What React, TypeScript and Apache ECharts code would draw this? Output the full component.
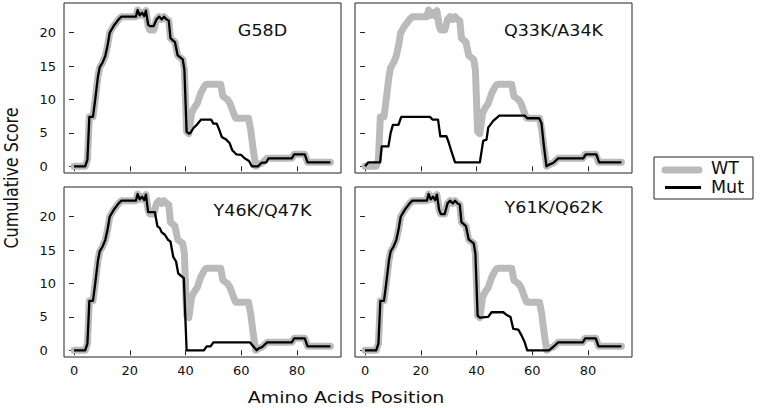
import React, { useEffect, useRef } from "react";
import * as echarts from "echarts";

const xTicks = [0, 20, 40, 60, 80];
const yTicks = [0, 5, 10, 15, 20];
const panelNames = ["G58D", "Q33K/A34K", "Y46K/Q47K", "Y61K/Q62K"];
const seriesNames = ["WT", "Mut"];

const wt = [
  [0, 0], [4, 0], [4.8, 1], [5.5, 7.4], [6.8, 7.4], [7.6, 10], [8.6, 13.5], [9.2, 14.8],
  [10.2, 15.5], [11.2, 16.5], [12, 18], [12.8, 20], [14.2, 21], [16, 22], [17, 22.4],
  [22.2, 22.4], [22.8, 23.4], [23.6, 22.6], [24.4, 23], [25.2, 22.5], [25.8, 23.3],
  [26.6, 21], [27.2, 20.4], [28.6, 20.4], [29.6, 22], [30.5, 22.4], [31.5, 22], [32.3, 22.4],
  [33.2, 22], [34, 21.8], [34.6, 19.2], [36.2, 18.6], [37.2, 16.6], [39, 16], [39.6, 14.5],
  [40.4, 5.2], [41.2, 4.9], [42.2, 8], [43.2, 8.8], [44.2, 9.4], [45.5, 11], [46.8, 12],
  [47.6, 12.3], [52.6, 12.3], [53.4, 10.5], [55, 10], [56, 9.4], [57.2, 8], [58, 7.2],
  [62.6, 7.2], [63.4, 5.5], [64.2, 2.8], [65.2, 0], [66.3, 0.3], [67.5, 0.5], [69.3, 1.2],
  [78.2, 1.2], [79, 1.8], [82.8, 1.8], [83.8, 0.6], [92, 0.6],
];

const mutG58D = [
  [0, 0], [4, 0], [4.8, 1], [5.5, 7.4], [6.8, 7.4], [7.6, 10], [8.6, 13.5], [9.2, 14.8],
  [10.2, 15.5], [11.2, 16.5], [12, 18], [12.8, 20], [14.2, 21], [16, 22], [17, 22.4],
  [22.2, 22.4], [22.8, 23.4], [23.6, 22.6], [24.4, 23], [25.2, 22.5], [25.8, 23.3],
  [26.6, 21.2], [27.2, 21], [28.6, 21], [29.6, 22], [30.5, 22.4], [31.5, 22], [32.3, 22.4],
  [33.2, 22], [34, 21.8], [34.6, 19.2], [36.2, 18.6], [37.2, 16.6], [39, 16], [39.6, 14.5],
  [40.4, 5.2], [41.2, 4.9], [41.8, 5], [42.8, 5.7], [44, 6.2], [45.6, 7], [49.2, 7],
  [50, 6.4], [51.2, 6.4], [52, 5.6], [53, 4.4], [54.6, 4], [55.8, 3.5], [56.8, 2.4],
  [58.2, 1.8], [60, 1.7], [61.2, 1.2], [62.8, 0.8], [63.8, 0], [66, 0], [67.2, 0.5],
  [69, 0.6], [69.8, 1.2], [78.2, 1.2], [79, 1.8], [82.8, 1.8], [83.8, 0.6], [92, 0.6],
];

const mutQ33K = [
  [0, 0], [1.2, 0.6], [5.4, 0.6], [6, 3], [8.4, 3], [9.2, 5], [10, 6.2], [12, 6.2],
  [13, 7.4], [23.3, 7.4], [24.2, 7], [26.2, 7], [27, 4.5], [29.2, 4.5], [30, 3.6],
  [30.8, 2.5], [31.6, 1.5], [32.3, 0.6], [41.2, 0.6], [42.4, 3.8], [43.6, 4], [44.2, 5.8],
  [46, 6.8], [48.2, 7.6], [57.3, 7.6], [58.2, 7.2], [62.5, 7.2], [63.3, 6.5], [64.2, 3],
  [65.1, 0], [66.3, 0.3], [67.5, 0.5], [69.3, 1.2], [78.3, 1.2], [79.2, 1.8], [83, 1.8],
  [84, 0.6], [92, 0.6],
];

const mutY46K = [
  [0, 0], [4, 0], [4.8, 1], [5.5, 7.4], [6.8, 7.4], [7.6, 10], [8.6, 13.5], [9.2, 14.8],
  [10.2, 15.5], [11.2, 16.5], [12, 18], [12.8, 20], [14.2, 21], [16, 22], [17, 22.4],
  [22.2, 22.4], [22.8, 23.4], [23.6, 22.6], [24.4, 23], [25.2, 22.5], [25.8, 23.3],
  [26.6, 20.7], [29, 20.7], [29.9, 18.6], [30.8, 18.3], [31.4, 17.7], [32.6, 17.3],
  [33.8, 16.5], [34.6, 16.3], [35.6, 14], [36.6, 13.3], [37.4, 11.5], [39.4, 10.8],
  [40.4, 0], [46.6, 0], [47.6, 0.6], [49, 0.6], [50, 1.2], [63.1, 1.2], [64.3, 0.6],
  [65.5, 0], [66.3, 0.3], [67.5, 0.5], [69.3, 1.2], [78.2, 1.2], [79, 1.8], [82.8, 1.8],
  [83.8, 0.6], [92, 0.6],
];

const mutY61K = [
  [0, 0], [4, 0], [4.8, 1], [5.5, 7.4], [6.8, 7.4], [7.6, 10], [8.6, 13.5], [9.2, 14.8],
  [10.2, 15.5], [11.2, 16.5], [12, 18], [12.8, 20], [14.2, 21], [16, 22], [17, 22.4],
  [22.2, 22.4], [22.8, 23.4], [23.6, 22.6], [24.4, 23], [25.2, 22.5], [25.8, 23.3],
  [26.6, 21], [27.2, 20.4], [28.6, 20.4], [29.6, 22], [30.5, 22.4], [31.5, 22], [32.3, 22.4],
  [33.2, 22], [34, 21.8], [34.6, 19.2], [36.2, 18.6], [37.2, 16.6], [39, 16], [39.6, 14.5],
  [40.4, 5.2], [41.2, 4.9], [44.2, 5], [45.4, 5.7], [49.6, 5.7], [50.8, 5.3], [52.2, 5],
  [53.2, 3.2], [55, 3.1], [56.2, 2.2], [57.3, 1.2], [58.2, 0], [66, 0], [67.5, 0.5],
  [69.3, 1.2], [78.2, 1.2], [79, 1.8], [82.8, 1.8], [83.8, 0.6], [92, 0.6],
];

const mutants = [mutG58D, mutQ33K, mutY46K, mutY61K];

const FONT = "DejaVu Sans";
const GRAY = "#bababa";

export default function App() {
  const ref = useRef<HTMLDivElement>(null);

  useEffect(() => {
    document.body.style.margin = "0";
    const chart = echarts.init(ref.current!, null, { renderer: "svg" });

    const grids = [
      { left: 64, top: 3 },
      { left: 355, top: 3 },
      { left: 64, top: 187 },
      { left: 355, top: 187 },
    ];
    const titleY = [30.5, 30.5, 211, 207.5];

    const option: any = {
      animation: false,
      grid: grids.map((g) => ({
        left: g.left,
        top: g.top,
        width: 277,
        height: 170,
        show: true,
        borderColor: "#222",
        borderWidth: 1,
        backgroundColor: "transparent",
      })),
      xAxis: grids.map((_, i) => ({
        type: "value",
        gridIndex: i,
        min: -3.6,
        max: 95.8,
        splitLine: { show: false },
        axisLine: { show: false },
        axisTick: {
          show: true,
          customValues: xTicks,
          length: 5,
          lineStyle: { color: "#222", width: 1 },
        },
        axisLabel: {
          show: i >= 2,
          customValues: xTicks,
          fontSize: 13,
          fontFamily: FONT,
          color: "#111",
          margin: 7,
        },
      })),
      yAxis: grids.map((_, i) => ({
        type: "value",
        gridIndex: i,
        min: -1.0,
        max: 24.45,
        splitLine: { show: false },
        axisLine: { show: false },
        axisTick: {
          show: true,
          customValues: yTicks,
          length: 5,
          lineStyle: { color: "#222", width: 1 },
        },
        axisLabel: {
          show: i % 2 === 0,
          customValues: yTicks,
          fontSize: 13,
          fontFamily: FONT,
          color: "#111",
          align: "left",
          margin: 24.5,
        },
      })),
      series: grids.flatMap((_, i) => [
        {
          name: seriesNames[0],
          type: "line",
          xAxisIndex: i,
          yAxisIndex: i,
          data: wt,
          symbol: "none",
          showSymbol: false,
          silent: true,
          z: 2,
          lineStyle: { color: GRAY, width: 7, cap: "round", join: "round" },
        },
        {
          name: seriesNames[1],
          type: "line",
          xAxisIndex: i,
          yAxisIndex: i,
          data: mutants[i],
          symbol: "none",
          showSymbol: false,
          silent: true,
          z: 3,
          lineStyle: { color: "#000", width: 2.3, join: "round" },
        },
      ]),
      graphic: [
        ...grids.map((g, i) => ({
          type: "text",
          x: g.left + 198.5,
          y: titleY[i],
          scaleY: 0.86,
          style: {
            text: panelNames[i],
            fontSize: 17.5,
            fontFamily: FONT,
            fill: "#111",
            textAlign: "center",
            textVerticalAlign: "middle",
            align: "center",
            verticalAlign: "middle",
          },
        })),
        {
          type: "text",
          x: 10.8,
          y: 178,
          rotation: Math.PI / 2,
          scaleX: 0.82,
          style: {
            text: "Cumulative Score",
            fontSize: 19.5,
            fontFamily: FONT,
            fill: "#111",
            textAlign: "center",
            textVerticalAlign: "middle",
            align: "center",
            verticalAlign: "middle",
          },
        },
        {
          type: "text",
          x: 346,
          y: 397.5,
          scaleY: 0.82,
          style: {
            text: "Amino Acids Position",
            fontSize: 19,
            fontFamily: FONT,
            fill: "#111",
            textAlign: "center",
            textVerticalAlign: "middle",
            align: "center",
            verticalAlign: "middle",
          },
        },
        {
          type: "rect",
          shape: { x: 654, y: 157, width: 99, height: 42 },
          style: { fill: "#fff", stroke: "#222", lineWidth: 1 },
        },
        {
          type: "line",
          shape: { x1: 665, y1: 170, x2: 699, y2: 170 },
          style: { stroke: GRAY, lineWidth: 7, lineCap: "round" },
        },
        {
          type: "line",
          shape: { x1: 665, y1: 187.5, x2: 701, y2: 187.5 },
          style: { stroke: "#000", lineWidth: 3 },
        },
        {
          type: "text",
          x: 711,
          y: 168,
          style: {
            text: seriesNames[0],
            fontSize: 17.5,
            fontFamily: FONT,
            fill: "#111",
            textAlign: "left",
            textVerticalAlign: "middle",
            align: "left",
            verticalAlign: "middle",
          },
        },
        {
          type: "text",
          x: 711,
          y: 186.7,
          style: {
            text: seriesNames[1],
            fontSize: 17.5,
            fontFamily: FONT,
            fill: "#111",
            textAlign: "left",
            textVerticalAlign: "middle",
            align: "left",
            verticalAlign: "middle",
          },
        },
      ],
    };

    chart.setOption(option);
    return () => chart.dispose();
  }, []);

  return <div ref={ref} style={{ width: 765, height: 408 }} />;
}
